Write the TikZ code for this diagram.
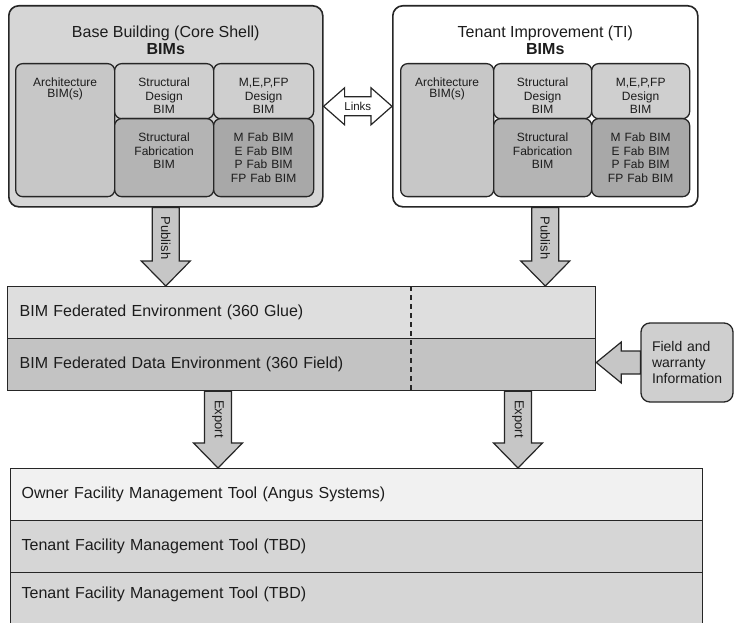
\documentclass[tikz,border=0pt]{standalone}
\usepackage{fontspec}
\setmainfont{Liberation Sans}
\usetikzlibrary{calc,positioning}
\definecolor{edgeGray}{RGB}{38,38,38}
\definecolor{txtGray}{RGB}{28,28,28}
\definecolor{shellGray}{RGB}{214,214,214}
\definecolor{archGray}{RGB}{199,199,199}
\definecolor{designGray}{RGB}{207,207,207}
\definecolor{fabGray}{RGB}{180,180,180}
\definecolor{mepGray}{RGB}{168,168,168}
\definecolor{glueGray}{RGB}{222,222,222}
\definecolor{fieldGray}{RGB}{195,195,195}
\definecolor{ownerGray}{RGB}{241,241,241}
\definecolor{tenantGray}{RGB}{214,214,214}
\definecolor{arrowGray}{RGB}{198,198,198}
\definecolor{infoGray}{RGB}{207,207,207}
\newcommand{\cellfont}{\fontsize{12}{13.5}\selectfont}
\newcommand{\rowfont}{\fontsize{16}{18}\selectfont}
\tikzset{
  shellBox/.style={rectangle,rounded corners=10pt,draw=edgeGray,line width=1.6pt,
                   fill=#1,anchor=north west,minimum height=201pt},
  titleTxt/.style={align=center,inner sep=0pt,text=txtGray,
                   font=\fontsize{16}{16.5}\selectfont},
  cellBox/.style={rectangle,rounded corners=7pt,draw=edgeGray,line width=1.3pt,
                  fill=#1,anchor=north west,align=center,text width=88pt,
                  inner xsep=0pt,inner ysep=14pt,text height=9pt,
                  text=txtGray,font=\cellfont},
  tallCell/.style={minimum height=133pt,text depth=96pt},
  upCell/.style={minimum height=55pt,text depth=18pt},
  lowCell/.style={minimum height=78pt,text depth=41pt},
  bandRow/.style={rectangle,draw=edgeGray,line width=1.3pt,fill=#1,
                  anchor=north west,align=left,minimum height=52pt,
                  inner ysep=0pt,text=txtGray,font=\rowfont},
  fatArrow/.style n args={3}{fill=arrowGray,draw=edgeGray,line width=1.2pt,
    to path={let \p1=(\tikztostart),\p2=(\tikztotarget),
      \n1={atan2(\y2-\y1,\x2-\x1)} in
      ($(\p1)+(\n1+90:#1)$) -- ($(\p2)+(\n1+180:#3)+(\n1+90:#1)$)
      -- ($(\p2)+(\n1+180:#3)+(\n1+90:#2)$) -- (\p2)
      -- ($(\p2)+(\n1+180:#3)+(\n1-90:#2)$) -- ($(\p2)+(\n1+180:#3)+(\n1-90:#1)$)
      -- ($(\p1)+(\n1-90:#1)$) -- cycle}},
  twinArrow/.style n args={3}{fill=white,draw=edgeGray,line width=1.2pt,
    to path={let \p1=(\tikztostart),\p2=(\tikztotarget),
      \n1={atan2(\y2-\y1,\x2-\x1)} in
      (\p1) -- ($(\p1)+(\n1:#3)+(\n1+90:#2)$) -- ($(\p1)+(\n1:#3)+(\n1+90:#1)$)
      -- ($(\p2)+(\n1+180:#3)+(\n1+90:#1)$) -- ($(\p2)+(\n1+180:#3)+(\n1+90:#2)$)
      -- (\p2)
      -- ($(\p2)+(\n1+180:#3)+(\n1-90:#2)$) -- ($(\p2)+(\n1+180:#3)+(\n1-90:#1)$)
      -- ($(\p1)+(\n1:#3)+(\n1-90:#1)$) -- ($(\p1)+(\n1:#3)+(\n1-90:#2)$)
      -- cycle}},
}

\begin{document}
\begin{tikzpicture}[x=1pt,y=1pt,
  pubArrow/.style={fatArrow={13.5}{24.5}{25}},
  arrowTxt/.style={rotate=-90,inner sep=0pt,text=txtGray,font=\fontsize{13}{13}\selectfont}]
  \useasboundingbox (0,0) rectangle (734,-623);

  \node[shellBox=shellGray,minimum width=314pt](bb) at (8,-5){};
  \node[shellBox=white,minimum width=305pt](ti) at (392,-5){};
  \node[titleTxt,anchor=north,below=21pt of bb.north](bbtitle){Base Building (Core Shell)\\\textbf{BIMs}};
  \node[titleTxt,anchor=north,below=21pt of ti.north](tititle){Tenant Improvement (TI)\\\textbf{BIMs}};

  \node[cellBox=archGray,tallCell,minimum width=99pt,font=\fontsize{12}{10.5}\selectfont](bbarch) at (15,-63){Architecture\\BIM(s)};
  \node[cellBox=designGray,upCell,minimum width=99pt](bbsd) at (114,-63){Structural\\Design\\BIM};
  \node[cellBox=designGray,upCell,minimum width=100pt](bbmd) at (213,-63){M,E,P,FP\\Design\\BIM};
  \node[cellBox=fabGray,lowCell,minimum width=99pt](bbsf) at (114,-118){Structural\\Fabrication\\BIM};
  \node[cellBox=mepGray,lowCell,minimum width=100pt](bbmf) at (213,-118){M Fab BIM\\E Fab BIM\\P Fab BIM\\FP Fab BIM};

  \node[cellBox=archGray,tallCell,minimum width=93pt,font=\fontsize{12}{10.5}\selectfont](tiarch) at (400,-63){Architecture\\BIM(s)};
  \node[cellBox=designGray,upCell,minimum width=98pt](tisd) at (493,-63){Structural\\Design\\BIM};
  \node[cellBox=designGray,upCell,minimum width=98pt](timd) at (591,-63){M,E,P,FP\\Design\\BIM};
  \node[cellBox=fabGray,lowCell,minimum width=98pt](tisf) at (493,-118){Structural\\Fabrication\\BIM};
  \node[cellBox=mepGray,lowCell,minimum width=98pt](timf) at (591,-118){M Fab BIM\\E Fab BIM\\P Fab BIM\\FP Fab BIM};

  \draw[twinArrow={9.5}{18.5}{21}](bb.east) to (ti.west);
  \node[inner sep=0pt,text=txtGray,font=\fontsize{11.5}{12}\selectfont](links) at ($(bb.east)!0.5!(ti.west)$){Links};

  \node[bandRow=glueGray,text width=564pt,inner xsep=12pt](fedglue) at (7,-286){BIM Federated Environment (360 Glue)};
  \node[bandRow=fieldGray,text width=564pt,inner xsep=12pt](fedfield) at (7,-338){BIM Federated Data Environment (360 Field)};
  \coordinate (dashx) at (411,0);
  \draw[edgeGray,line width=1.2pt,dash pattern=on 5pt off 4pt](fedglue.north -| dashx) -- (fedfield.south -| dashx);

  \node[rectangle,rounded corners=9pt,draw=edgeGray,line width=1.3pt,fill=infoGray,
        minimum width=92pt,minimum height=79pt,text width=70pt,align=left,
        text=txtGray,font=\fontsize{14}{16}\selectfont](field) at (687,-362.5){Field and\\warranty\\Information};
  \draw[fatArrow={11.5}{20.5}{25}](field.west) to (field.west -| fedfield.east);

  \node[bandRow=ownerGray,text width=670pt,inner xsep=11pt](owner) at (10,-468){Owner Facility Management Tool (Angus Systems)};
  \node[bandRow=tenantGray,text width=670pt,inner xsep=11pt](tenanta) at (10,-520){Tenant Facility Management Tool (TBD)};
  \node[bandRow=tenantGray,text width=670pt,inner xsep=11pt,minimum height=62pt,text depth=22pt](tenantb) at (10,-572){Tenant Facility Management Tool (TBD)};

  \draw[pubArrow](bb.south) to (bb.south |- fedglue.north);
  \draw[pubArrow](ti.south) to (ti.south |- fedglue.north);
  \node[arrowTxt](pubbb) at ($(bb.south)!0.39!(bb.south |- fedglue.north)$){Publish};
  \node[arrowTxt](pubti) at ($(ti.south)!0.39!(ti.south |- fedglue.north)$){Publish};

  \coordinate (expL) at (218,0);
  \coordinate (expR) at (518,0);
  \foreach \c/\t in {expL/expLtxt,expR/expRtxt}{
    \draw[pubArrow](fedfield.south -| \c) to (owner.north -| \c);
    \node[arrowTxt](\t) at ($(fedfield.south -| \c)!0.36!(owner.north -| \c)$){Export};
  }
\end{tikzpicture}
\end{document}
